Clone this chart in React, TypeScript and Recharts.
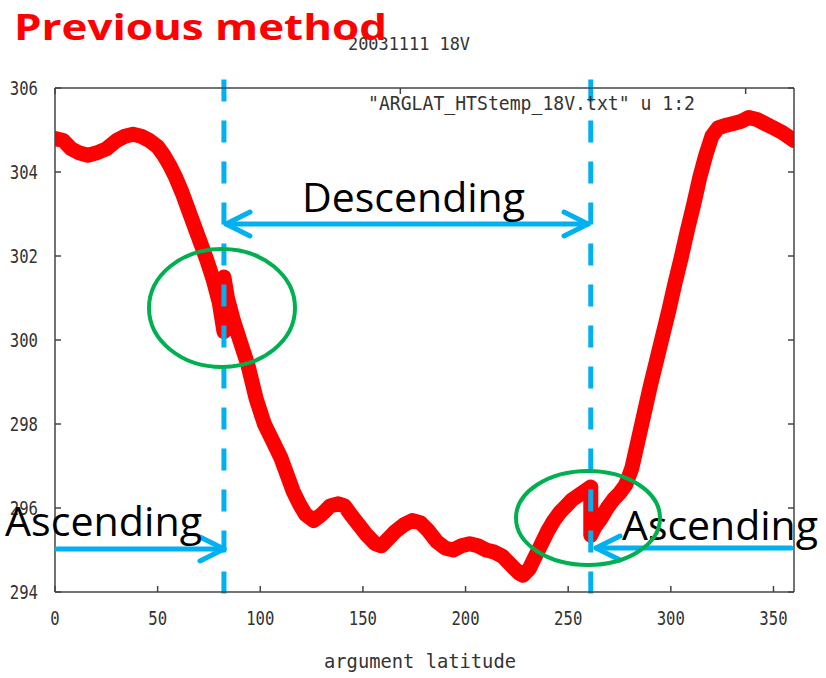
import { LineChart, Line, XAxis, YAxis, ReferenceLine } from 'recharts'

// argument latitude (deg) and brightness temperature (K)
const argLat = [
  0, 4, 8, 12, 16, 20, 25, 30, 34, 38, 42, 46, 50, 53, 56, 59, 62, 65, 68, 71, 74, 77, 80, 82.3,
  82.3, 84, 87, 90, 94, 98, 102, 106, 110, 113, 116, 119, 122, 126, 130, 134, 138, 141, 144, 148,
  152, 156, 159, 162, 166, 170, 174, 178, 182, 186, 190, 194, 198, 202, 206, 210, 214, 218, 222,
  226, 228, 231, 234, 237, 240, 243, 246, 249, 252, 255, 258, 261,
  261, 263, 266, 269, 272, 275, 278, 281, 284, 287, 290, 293, 296, 299, 302, 305, 308, 311, 314,
  317, 320, 323, 326, 330, 334, 338, 342, 346, 350, 354, 357, 360,
]
const temp18V = [
  304.8, 304.75, 304.55, 304.45, 304.4, 304.45, 304.55, 304.75, 304.85, 304.9, 304.85, 304.75,
  304.6, 304.4, 304.15, 303.85, 303.5, 303.1, 302.7, 302.3, 301.9, 301.45, 300.9, 300.2,
  301.5, 301.0, 300.45, 300.0, 299.4, 298.6, 298.0, 297.6, 297.2, 296.8, 296.4, 296.1, 295.85,
  295.7, 295.85, 296.05, 296.1, 296.05, 295.85, 295.6, 295.35, 295.15, 295.1, 295.25, 295.45,
  295.6, 295.7, 295.65, 295.45, 295.2, 295.05, 295.0, 295.1, 295.15, 295.1, 295.0, 294.95,
  294.85, 294.65, 294.45, 294.4, 294.55, 294.85, 295.15, 295.45, 295.7, 295.9, 296.05, 296.2,
  296.3, 296.4, 296.5,
  295.35, 295.55, 295.75, 296.0, 296.2, 296.35, 296.55, 296.95, 297.6, 298.25, 298.9, 299.5, 300.1,
  300.7, 301.35, 301.95, 302.6, 303.2, 303.85, 304.4, 304.85, 305.05, 305.1, 305.15, 305.2,
  305.3, 305.25, 305.15, 305.05, 304.95, 304.85, 304.75,
]
const xTicks = [0, 50, 100, 150, 200, 250, 300, 350]
const yTicks = [294, 296, 298, 300, 302, 304, 306]
const boundaries = [82.3, 261]

const data = argLat.map((x, i) => ({ x, t: temp18V[i] }))

const MONO = 'DejaVu Sans Mono'
const GRAY = '#333'
const BLUE = '#00B0F0'
const GREEN = '#00B050'

function XTick({ x, y, payload }: any) {
  const s = String(payload.value)
  return (
    <text x={x} y={y} textAnchor="middle" dominantBaseline="central" fontFamily={MONO} fontSize={20}
      fill={GRAY} textLength={s.length * 9.4} lengthAdjust="spacingAndGlyphs">
      {s}
    </text>
  )
}

function YTick({ x, y, payload }: any) {
  const s = String(payload.value)
  return (
    <text x={x} y={y} textAnchor="end" dominantBaseline="central" fontFamily={MONO} fontSize={20}
      fill={GRAY} textLength={s.length * 9.4} lengthAdjust="spacingAndGlyphs">
      {s}
    </text>
  )
}

const noTick = () => <g />

function Overlay() {
  const head = (tx: number, ty: number, dir: number) =>
    `M ${tx + dir * 24} ${ty - 12} L ${tx} ${ty} L ${tx + dir * 24} ${ty + 12}`
  return (
    <svg width={826} height={678} style={{ position: 'absolute', left: 0, top: 0, pointerEvents: 'none' }}>
      {/* gnuplot title and key */}
      <text x={348} y={50} fontFamily={MONO} fontSize={18} fill={GRAY} textLength={122} lengthAdjust="spacingAndGlyphs">
        20031111 18V
      </text>
      <text x={368} y={110} fontFamily={MONO} fontSize={20} fill={GRAY} textLength={327} lengthAdjust="spacingAndGlyphs">
        "ARGLAT_HTStemp_18V.txt" u 1:2
      </text>
      <text x={420} y={668} textAnchor="middle" fontFamily={MONO} fontSize={19} fill={GRAY} textLength={192} lengthAdjust="spacingAndGlyphs">
        argument latitude
      </text>

      <text x={14} y={40} fontFamily="Open Sans" fontWeight={700} fontSize={36} fill="#FF0000" textLength={373} lengthAdjust="spacingAndGlyphs">
        Previous method
      </text>

      {/* ascending / descending arrows */}
      <g stroke={BLUE} strokeWidth={5} fill="none" strokeLinecap="round" strokeLinejoin="round">
        <line x1={226} y1={224} x2={588} y2={224} />
        <path d={head(226, 224, 1)} />
        <path d={head(588, 224, -1)} />
        <line x1={57} y1={549} x2={224} y2={549} />
        <path d={head(224, 549, -1)} />
        <line x1={596} y1={548} x2={791} y2={548} />
        <path d={head(596, 548, 1)} />
      </g>
      <text x={302} y={212} fontFamily="Open Sans" fontSize={40} fill="#000" textLength={223} lengthAdjust="spacingAndGlyphs">
        Descending
      </text>
      <text x={5} y={536} fontFamily="Open Sans" fontSize={40} fill="#000" textLength={197} lengthAdjust="spacingAndGlyphs">
        Ascending
      </text>
      <text x={622} y={540} fontFamily="Open Sans" fontSize={40} fill="#000" textLength={196} lengthAdjust="spacingAndGlyphs">
        Ascending
      </text>

      <g stroke={GREEN} strokeWidth={4} fill="none">
        <ellipse cx={222} cy={308} rx={73} ry={59} />
        <ellipse cx={588} cy={518} rx={72} ry={47} />
      </g>
    </svg>
  )
}

export default function App() {
  return (
    <div style={{ position: 'absolute', left: 0, top: 0, width: 826, height: 678, background: '#fff' }}>
      <LineChart width={826} height={678} data={data} margin={{ top: 78, right: 22, bottom: 26, left: 0 }}>
        <XAxis dataKey="x" type="number" domain={[0, 360]} ticks={xTicks} allowDataOverflow
          height={60} tickSize={-6} tickMargin={32} tick={<XTick />}
          axisLine={{ stroke: '#444', strokeWidth: 1.5 }} tickLine={{ stroke: '#444', strokeWidth: 1.5 }} />
        <XAxis xAxisId="top" orientation="top" type="number" domain={[0, 360]} ticks={xTicks} allowDataOverflow
          height={10} tickSize={-6} tick={noTick}
          axisLine={{ stroke: '#444', strokeWidth: 1.5 }} tickLine={{ stroke: '#444', strokeWidth: 1.5 }} />
        <YAxis type="number" domain={[294, 306]} ticks={yTicks} allowDataOverflow width={55}
          tickSize={-6} tickMargin={23} tick={<YTick />}
          axisLine={{ stroke: '#444', strokeWidth: 1.5 }} tickLine={{ stroke: '#444', strokeWidth: 1.5 }} />
        <YAxis yAxisId="right" orientation="right" type="number" domain={[294, 306]} ticks={yTicks} allowDataOverflow
          width={10} tickSize={-6} tick={noTick}
          axisLine={{ stroke: '#444', strokeWidth: 1.5 }} tickLine={{ stroke: '#444', strokeWidth: 1.5 }} />
        <Line dataKey="t" type="linear" stroke="#FF0000" strokeWidth={15} dot={false}
          strokeLinejoin="round" strokeLinecap="round" isAnimationActive={false} />
        {boundaries.map((b) => (
          <ReferenceLine key={b} segment={[{ x: b, y: 306.2 }, { x: b, y: 293.9 }]} ifOverflow="visible"
            stroke={BLUE} strokeWidth={5} strokeDasharray="22 19" />
        ))}
      </LineChart>
      <Overlay />
    </div>
  )
}
